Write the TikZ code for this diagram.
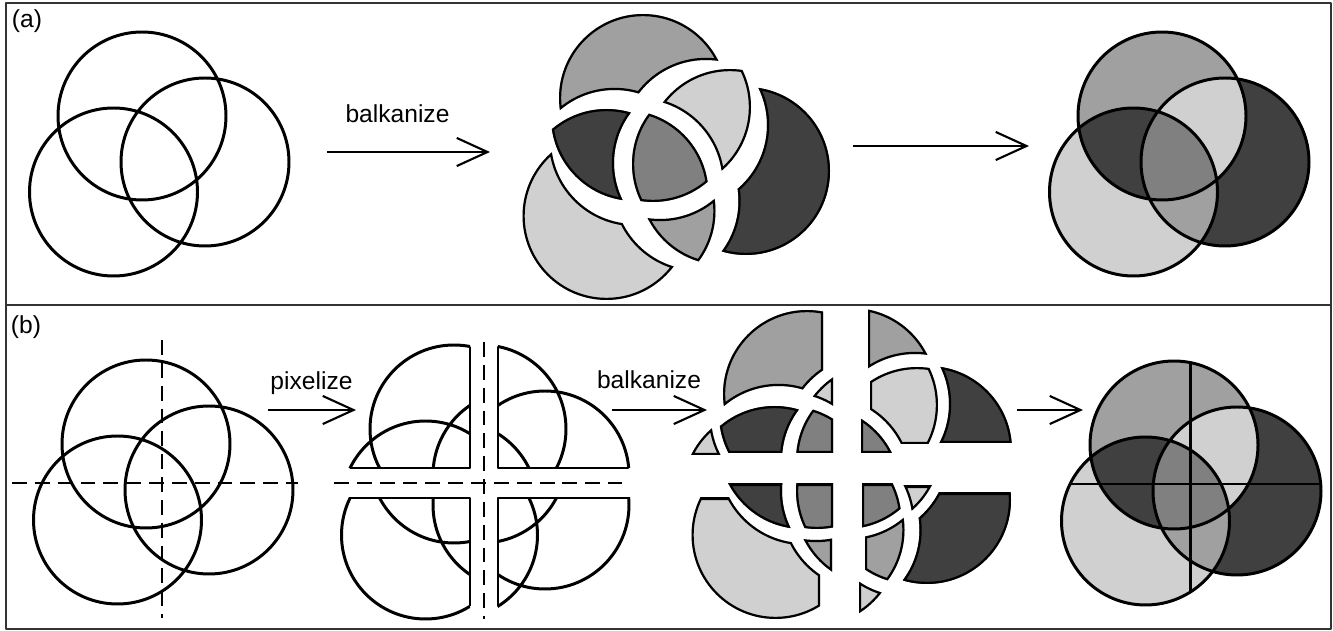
\documentclass[tikz,border=0pt]{standalone}
\usepackage{fontspec}
\setmainfont{Liberation Sans}
\usetikzlibrary{arrows.meta}
\definecolor{paleshade}{HTML}{D0D0D0}
\definecolor{midshade}{HTML}{A0A0A0}
\definecolor{coreshade}{HTML}{808080}
\definecolor{darkshade}{HTML}{404040}

% the three rings (pixel units of the first panel)
\newcommand{\ringA}{(142,116) circle (84)}
\newcommand{\ringB}{(113.5,192) circle (84)}
\newcommand{\ringC}{(205,162) circle (84)}
\newcommand{\frameCW}{(-2000,-2000) -- (-2000,2000) -- (2000,2000) -- (2000,-2000) -- cycle}
\newcommand{\beyondA}{\frameCW \ringA}
\newcommand{\beyondB}{\frameCW \ringB}
\newcommand{\beyondC}{\frameCW \ringC}

% the seven faces
\newcommand{\onlyA}{\clip \ringA; \clip \beyondB; \clip \beyondC;}
\newcommand{\onlyB}{\clip \ringB; \clip \beyondA; \clip \beyondC;}
\newcommand{\onlyC}{\clip \ringC; \clip \beyondA; \clip \beyondB;}
\newcommand{\bothAB}{\clip \ringA; \clip \ringB; \clip \beyondC;}
\newcommand{\bothAC}{\clip \ringA; \clip \ringC; \clip \beyondB;}
\newcommand{\bothBC}{\clip \ringB; \clip \ringC; \clip \beyondA;}
\newcommand{\allABC}{\clip \ringA; \clip \ringB; \clip \ringC;}

% the four quadrants round the cut point (158,155)
\newcommand{\quadNW}{\clip (-2000,-2000) rectangle (158,155);}
\newcommand{\quadNE}{\clip (158,-2000) rectangle (2000,155);}
\newcommand{\quadSW}{\clip (-2000,155) rectangle (158,2000);}
\newcommand{\quadSE}{\clip (158,155) rectangle (2000,2000);}

\newcommand{\tint}[2]{\begin{scope}#1\fill[#2] (-2000,-2000) rectangle (2000,2000);\end{scope}}
\newcommand{\shard}[4]{%
  \begin{scope}[shift={(#3,#4)}]
    #1
    \fill[#2] (-2000,-2000) rectangle (2000,2000);
    \draw[shardedge] \ringA \ringB \ringC;
  \end{scope}}
\newcommand{\qshard}[5]{%
  \begin{scope}[shift={(#4,#5)}]
    #1 #2
    \fill[#3] (-2000,-2000) rectangle (2000,2000);
    \draw[shardedge] \ringA \ringB \ringC (158,-2000) -- (158,2000) (-2000,155) -- (2000,155);
  \end{scope}}
\newcommand{\pixquad}[2]{%
  \begin{scope}#1\draw[ring] \ringA \ringB \ringC;\end{scope}
  \begin{scope}\clip \ringA \ringB \ringC; \draw[ring] #2;\end{scope}}

\begin{document}
\begin{tikzpicture}[x=0.02cm, y=-0.02cm, line join=round,
    ring/.style={line width=1.7pt},
    shardedge/.style={line width=2.5pt},
    cutmark/.style={line width=1.6pt, dash pattern=on 8.5pt off 4.5pt},
    flow/.style={line width=1.2pt, -{Straight Barb[length=17.5pt, width=16pt]}},
    tag/.style={font=\fontsize{14}{16}\selectfont, inner sep=0pt}]
  \useasboundingbox (0,0) rectangle (1333,631);
  \draw[black!80, line width=0.9pt] (6,3) rectangle (1331,629);
  \draw[black!80, line width=0.9pt] (6,305) -- (1331,305);

  \node[tag] (tagA) at (27,21) {(a)};
  \node[tag] (tagB) at (26,327) {(b)};

  % (a) rings
  \draw[ring] \ringA \ringB \ringC;

  % (a) balkanized
  \begin{scope}[shift={(511,2)}]
    \shard{\onlyA}{midshade}{-10}{-20}
    \shard{\onlyB}{paleshade}{-18}{22}
    \shard{\onlyC}{darkshade}{30}{7}
    \shard{\bothAB}{darkshade}{-18}{-1}
    \shard{\bothAC}{paleshade}{14}{-11}
    \shard{\bothBC}{midshade}{7}{17}
    \shard{\allABC}{coreshade}{0}{0}
  \end{scope}

  % (a) coloured
  \begin{scope}[shift={(1020,0)}]
    \tint{\onlyA}{midshade}
    \tint{\onlyB}{paleshade}
    \tint{\onlyC}{darkshade}
    \tint{\bothAB}{darkshade}
    \tint{\bothAC}{paleshade}
    \tint{\bothBC}{midshade}
    \tint{\allABC}{coreshade}
    \draw[ring] \ringA \ringB \ringC;
  \end{scope}

  \coordinate (fromA1) at (327,152);
  \coordinate (toA1) at (490,152);
  \coordinate (fromA2) at (853,146);
  \coordinate (toA2) at (1029,146);
  \draw[flow] (fromA1) -- (toA1);
  \node[tag, anchor=base] (balkA) at (397.5,123) {balkanize};
  \draw[flow] (fromA2) -- (toA2);

  % (b) rings with cuts
  \begin{scope}[shift={(4,328)}]
    \draw[ring] \ringA \ringB \ringC;
    \draw[cutmark] (158,12) -- (158,290);
    \draw[cutmark] (8,155) -- (294,155);
  \end{scope}

  % (b) pixelized
  \begin{scope}[shift={(326,328)}]
    \draw[cutmark] (158,14) -- (158,291);
    \draw[cutmark] (8,155) -- (296,155);
    \begin{scope}[shift={(-14,-15)}]
      \pixquad{\quadNW}{(158,-2000) -- (158,155) -- (-2000,155)}
    \end{scope}
    \begin{scope}[shift={(14,-15)}]
      \pixquad{\quadNE}{(158,-2000) -- (158,155) -- (2000,155)}
    \end{scope}
    \begin{scope}[shift={(-14,15)}]
      \pixquad{\quadSW}{(158,2000) -- (158,155) -- (-2000,155)}
    \end{scope}
    \begin{scope}[shift={(14,15)}]
      \pixquad{\quadSE}{(158,2000) -- (158,155) -- (2000,155)}
    \end{scope}
  \end{scope}

  % (b) balkanized
  \begin{scope}[shift={(675,298)}]
    \qshard{\quadNW}{\onlyA}{midshade}{-10}{-20}
    \qshard{\quadNW}{\bothAC}{paleshade}{0}{-13}
    \qshard{\quadNW}{\bothAB}{darkshade}{-14}{0}
    \qshard{\quadNW}{\allABC}{coreshade}{0}{0}
    \qshard{\quadNW}{\onlyB}{paleshade}{-22}{2}
  \end{scope}
  \begin{scope}[shift={(703,298)}]
    \qshard{\quadNE}{\onlyA}{midshade}{7}{-22}
    \qshard{\quadNE}{\bothAC}{paleshade}{9}{-9}
    \qshard{\quadNE}{\onlyC}{darkshade}{20}{-10}
    \qshard{\quadNE}{\allABC}{coreshade}{0}{0}
  \end{scope}
  \begin{scope}[shift={(675,329)}]
    \qshard{\quadSW}{\bothAB}{darkshade}{-14}{0}
    \qshard{\quadSW}{\allABC}{coreshade}{0}{0}
    \qshard{\quadSW}{\onlyB}{paleshade}{-13}{14}
    \qshard{\quadSW}{\bothBC}{midshade}{-1}{11}
  \end{scope}
  \begin{scope}[shift={(704,329)}]
    \qshard{\quadSE}{\allABC}{coreshade}{0}{0}
    \qshard{\quadSE}{\bothAC}{paleshade}{11}{2}
    \qshard{\quadSE}{\onlyC}{darkshade}{18}{9}
    \qshard{\quadSE}{\bothBC}{midshade}{3}{9}
    \qshard{\quadSE}{\onlyB}{paleshade}{-3}{21}
  \end{scope}

  % (b) coloured
  \begin{scope}[shift={(1032,329)}]
    \tint{\onlyA}{midshade}
    \tint{\onlyB}{paleshade}
    \tint{\onlyC}{darkshade}
    \tint{\bothAB}{darkshade}
    \tint{\bothAC}{paleshade}
    \tint{\bothBC}{midshade}
    \tint{\allABC}{coreshade}
    \begin{scope}
      \clip \ringA \ringB \ringC;
      \draw[ring] (158,-2000) -- (158,2000) (-2000,155) -- (2000,155);
    \end{scope}
    \draw[ring] \ringA \ringB \ringC;
  \end{scope}

  \coordinate (fromB1) at (268,410);
  \coordinate (toB1) at (356,410);
  \coordinate (fromB2) at (612,410);
  \coordinate (toB2) at (707,410);
  \coordinate (fromB3) at (1017,410);
  \coordinate (toB3) at (1083,410);
  \draw[flow] (fromB1) -- (toB1);
  \node[tag, anchor=base] (pixB) at (311.5,390) {pixelize};
  \draw[flow] (fromB2) -- (toB2);
  \node[tag, anchor=base] (balkB) at (649,389) {balkanize};
  \draw[flow] (fromB3) -- (toB3);
\end{tikzpicture}
\end{document}
